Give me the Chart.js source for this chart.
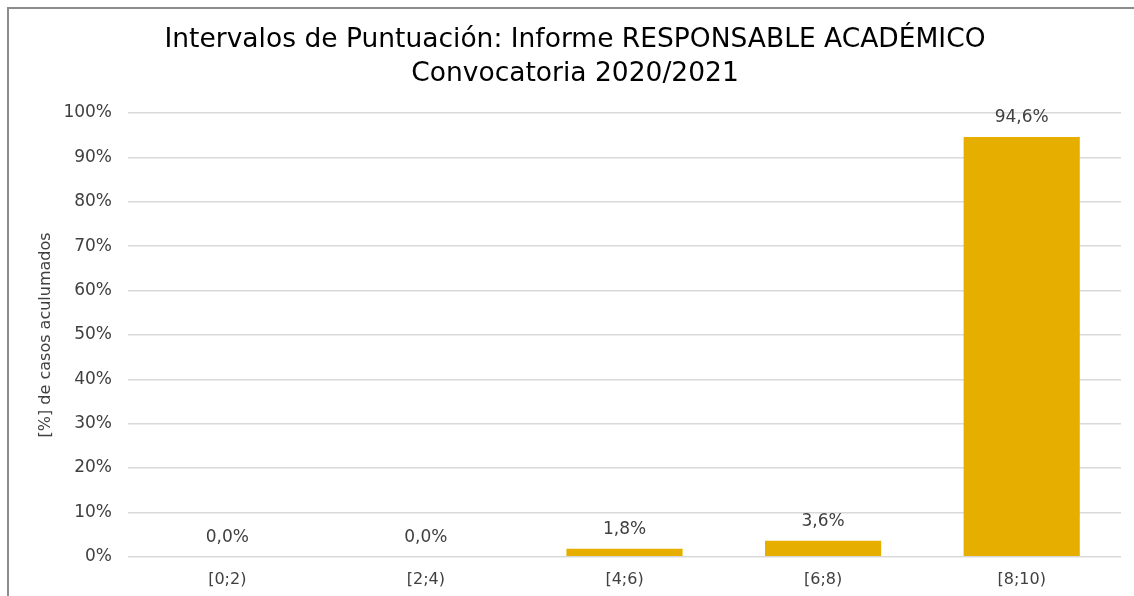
<!DOCTYPE html>
<html lang="es">

<head>
    <meta charset="UTF-8">
    <title>Intervalos de Puntuación</title>
    <style>
        body {
            margin: 0;
            background: #fff;
        }

        .frame {
            position: absolute;
            left: 7px;
            top: 7px;
            width: 1140px;
            height: 600px;
            border-left: 2px solid #8c8c8c;
            border-top: 2px solid #8c8c8c;
        }

        #chart {
            position: absolute;
            left: 0;
            top: 0;
        }
    </style>
</head>

<body>
    <div class="frame"></div>
    <canvas id="chart" width="1134" height="596"></canvas>
    <script src="https://cdn.jsdelivr.net/npm/chart.js"></script>
    <script>
        const categories = ["[0;2)", "[2;4)", "[4;6)", "[6;8)", "[8;10)"];
        const values = [0.0, 0.0, 1.8, 3.6, 94.6];
        const titleLines = ["Intervalos de Puntuación: Informe RESPONSABLE ACADÉMICO", "Convocatoria 2020/2021"];
        const yLabel = "[%] de casos aculumados";

        const fontFamily = "'DejaVu Sans', sans-serif";

        // value labels above each bar
        const barLabels = {
            id: "barLabels",
            afterDatasetsDraw(chart) {
                const c = chart.ctx;
                const meta = chart.getDatasetMeta(0);
                c.save();
                c.font = "17px " + fontFamily;
                c.fillStyle = "#404040";
                c.textAlign = "center";
                c.textBaseline = "middle";
                meta.data.forEach((bar, i) => {
                    const txt = values[i].toFixed(1).replace(".", ",") + "%";
                    c.fillText(txt, bar.x, bar.y - 19);
                });
                c.restore();
            }
        };

        new Chart(document.getElementById("chart"), {
            type: "bar",
            data: {
                labels: categories,
                datasets: [{
                    data: values,
                    backgroundColor: "#e6af00",
                    categoryPercentage: 0.585,
                    barPercentage: 1
                }]
            },
            options: {
                responsive: false,
                animation: false,
                layout: { padding: { left: 29, right: 13, top: 0, bottom: 2 } },
                plugins: {
                    legend: { display: false },
                    tooltip: { enabled: false },
                    title: {
                        display: true,
                        text: titleLines,
                        color: "#000",
                        font: { family: fontFamily, size: 26.5, weight: "normal", lineHeight: 1.283 },
                        padding: { top: 23, bottom: 22 }
                    }
                },
                scales: {
                    x: {
                        grid: { display: false },
                        border: { display: false },
                        ticks: { color: "#404040", font: { family: fontFamily, size: 16 }, padding: 5 }
                    },
                    y: {
                        min: 0,
                        max: 100,
                        ticks: {
                            stepSize: 10,
                            color: "#404040",
                            padding: 16,
                            font: { family: fontFamily, size: 17 },
                            callback: v => v + "%"
                        },
                        grid: { color: "#d9d9d9", lineWidth: 1.5, drawTicks: false },
                        border: { display: false },
                        title: {
                            display: true,
                            text: yLabel,
                            color: "#404040",
                            font: { family: fontFamily, size: 16 },
                            padding: { top: 7, bottom: 0 }
                        },
                        afterFit(scale) { scale.width = 99; }
                    }
                }
            },
            plugins: [barLabels]
        });
    </script>
</body>

</html>
